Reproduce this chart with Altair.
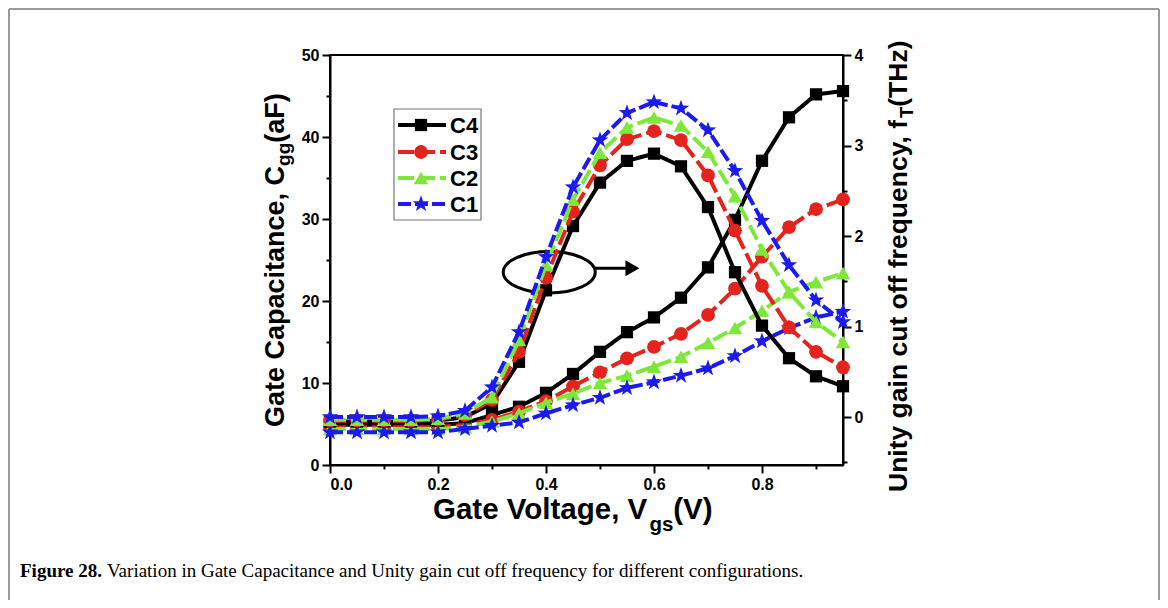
import altair as alt
import pandas as pd

# ---------------- data ----------------
V = [0.0, 0.05, 0.10, 0.15, 0.20, 0.25, 0.30, 0.35, 0.40, 0.45,
     0.50, 0.55, 0.60, 0.65, 0.70, 0.75, 0.80, 0.85, 0.90, 0.95]
series = ["C4", "C3", "C2", "C1"]

# Gate capacitance Cgg (aF) - left axis
cgg_C4 = [4.9, 4.9, 4.9, 4.9, 4.9, 5.1, 6.1, 7.1, 8.8, 11.1, 13.8, 16.2, 18.0, 20.4, 24.1, 29.9, 37.1, 42.4, 45.2, 45.6]
cgg_C3 = [4.6, 4.6, 4.6, 4.6, 4.6, 4.9, 5.5, 6.5, 7.8, 9.6, 11.3, 13.0, 14.4, 16.0, 18.3, 21.5, 25.4, 29.0, 31.2, 32.4]
cgg_C2 = [4.4, 4.4, 4.4, 4.4, 4.4, 4.6, 5.3, 6.3, 7.6, 8.7, 10.0, 10.9, 12.0, 13.2, 14.9, 16.7, 18.8, 21.1, 22.3, 23.4]
cgg_C1 = [4.0, 4.0, 4.0, 4.0, 4.0, 4.4, 4.8, 5.2, 6.3, 7.3, 8.2, 9.4, 10.1, 10.9, 11.8, 13.3, 15.1, 16.7, 18.0, 18.7]

# Unity gain cut-off frequency fT (THz) - right axis
ft_C4 = [-0.05, -0.05, -0.05, -0.05, -0.04, 0.00, 0.15, 0.61, 1.40, 2.11, 2.59, 2.83, 2.91, 2.77, 2.32, 1.60, 1.01, 0.65, 0.45, 0.34]
ft_C3 = [-0.04, -0.04, -0.04, -0.04, -0.03, 0.02, 0.19, 0.72, 1.54, 2.27, 2.78, 3.07, 3.16, 3.06, 2.67, 2.06, 1.45, 0.99, 0.72, 0.55]
ft_C2 = [-0.03, -0.03, -0.03, -0.03, -0.02, 0.04, 0.22, 0.85, 1.68, 2.40, 2.92, 3.20, 3.31, 3.22, 2.93, 2.44, 1.85, 1.38, 1.05, 0.83]
ft_C1 = [0.00, 0.00, 0.00, 0.00, 0.01, 0.07, 0.33, 0.94, 1.77, 2.54, 3.06, 3.36, 3.48, 3.41, 3.17, 2.72, 2.17, 1.68, 1.29, 1.05]

x_ticks = [0.0, 0.1, 0.2, 0.3, 0.4, 0.5, 0.6, 0.7, 0.8, 0.9]
left_ticks = [0, 5, 10, 15, 20, 25, 30, 35, 40, 45, 50]
right_ticks = [-0.5, 0, 0.5, 1, 1.5, 2, 2.5, 3, 3.5, 4]

# annotation (ellipse + arrow) in data units of the left axis
ell_x = [0.406]
ell_y = [23.5]
arrow_x1 = [0.491]
arrow_x2 = [0.55]
arrow_y = [24.0]
head_x = [0.56]

# ---------------- styles ----------------
STAR = ("M 0 -1 L 0.235 -0.324 L 0.951 -0.309 L 0.380 0.124 L 0.588 0.809 L 0 0.4 "
        "L -0.588 0.809 L -0.380 0.124 L -0.951 -0.309 L -0.235 -0.324 Z")
colors = ["#000000", "#e3231c", "#7ee83a", "#1b1bf0"]
dashes = [[1, 0], [16, 5], [16, 5], [13, 4]]
shapes = ["square", "circle", "triangle-up", STAR]
sizes = [150, 190, 210, 300]
LW = 4
FONT = "Liberation Sans"

cgg = {"C4": cgg_C4, "C3": cgg_C3, "C2": cgg_C2, "C1": cgg_C1}
ft = {"C4": ft_C4, "C3": ft_C3, "C2": ft_C2, "C1": ft_C1}

xscale = alt.Scale(domain=[0, 0.95], nice=False, zero=False)
lscale = alt.Scale(domain=[0, 50], nice=False, zero=False)
rscale = alt.Scale(domain=[-0.53, 4], nice=False, zero=False)


def axis_common():
    return dict(labelFontSize=16, labelFontWeight="bold", labelFont=FONT,
                labelColor="black", tickColor="black", tickWidth=2,
                domainColor="black", domainWidth=2, grid=False, labelPadding=3)


def x_axis():
    return alt.Axis(values=x_ticks, format=".1f", orient="bottom",
                    labelExpr="round(datum.value*10) % 2 == 0 ? datum.label : ''",
                    tickSize={"condition": {"test": "round(datum.value*10) % 2 == 0", "value": 8}, "value": 4},
                    **axis_common())


def l_axis():
    return alt.Axis(values=left_ticks, orient="left", format=".0f",
                    labelExpr="datum.value % 10 == 0 ? datum.label : ''",
                    tickSize={"condition": {"test": "datum.value % 10 == 0", "value": 8}, "value": 4},
                    **axis_common())


def r_axis():
    return alt.Axis(values=right_ticks, orient="right", format=".0f",
                    labelExpr="datum.value % 1 == 0 ? datum.label : ''",
                    tickSize={"condition": {"test": "datum.value % 1 == 0", "value": 8}, "value": 4},
                    **axis_common())


left_layers = []
right_layers = []
for s, c, d, sh, sz in zip(series, colors, dashes, shapes, sizes):
    dfs = pd.DataFrame({"V": V, "Cgg": cgg[s], "fT": ft[s]})
    b = alt.Chart(dfs)
    xe = alt.X("V:Q", scale=xscale, axis=x_axis(), title=None)
    yl = alt.Y("Cgg:Q", scale=lscale, axis=l_axis(), title=None)
    yr = alt.Y("fT:Q", scale=rscale, axis=r_axis(), title=None)
    left_layers.append(b.mark_line(strokeWidth=LW, color=c, strokeDash=d).encode(x=xe, y=yl))
    left_layers.append(b.mark_point(shape=sh, size=sz, filled=True, color=c, opacity=1).encode(x=xe, y=yl))
    right_layers.append(b.mark_line(strokeWidth=LW, color=c, strokeDash=d).encode(x=xe, y=yr))
    right_layers.append(b.mark_point(shape=sh, size=sz, filled=True, color=c, opacity=1).encode(x=xe, y=yr))

ELLIPSE = ("M -1 0 C -1 -0.25 -0.55 -0.45 0 -0.45 C 0.55 -0.45 1 -0.25 1 0 "
           "C 1 0.25 0.55 0.45 0 0.45 C -0.55 0.45 -1 0.25 -1 0 Z")
ann = pd.DataFrame({"ex": ell_x, "ey": ell_y, "x1": arrow_x1, "x2": arrow_x2,
                    "ay": arrow_y, "hx": head_x})
ell = alt.Chart(ann).mark_point(
    shape=ELLIPSE, size=8464, filled=False, strokeWidth=3, color="black", opacity=1
).encode(x=alt.X("ex:Q", scale=xscale, axis=x_axis(), title=None),
         y=alt.Y("ey:Q", scale=lscale, axis=l_axis(), title=None))
arrow = alt.Chart(ann).mark_rule(strokeWidth=3, color="black").encode(
    x=alt.X("x1:Q", scale=xscale, axis=x_axis(), title=None), x2="x2:Q",
    y=alt.Y("ay:Q", scale=lscale, axis=l_axis(), title=None))
head = alt.Chart(ann).mark_point(
    shape="triangle-right", filled=True, size=260, color="black", opacity=1
).encode(x=alt.X("hx:Q", scale=xscale, axis=x_axis(), title=None),
         y=alt.Y("ay:Q", scale=lscale, axis=l_axis(), title=None))
left_layers += [ell, arrow, head]

left_group = alt.layer(*left_layers)
right_group = alt.layer(*right_layers)

# ---------------- decorations (layout, pixel positions relative to plot origin) ----------------
one = alt.InlineData(values=[{"a": 0}])


def txt(text, x, y, size, weight="bold", angle=0, align="left", font=FONT, baseline="alphabetic"):
    kw = dict(text=text, align=align, baseline=baseline, font=font, fontSize=size,
              fontWeight=weight, color="black")
    if angle:
        kw["angle"] = angle
    return alt.Chart(one).mark_text(**kw).encode(x=alt.value(x), y=alt.value(y))


decor = []
decor.append(txt("Gate Capacitance, C", -46, 372, 27, angle=270))
decor.append(txt("gg", -40, 110.9, 19, angle=270))
decor.append(txt("(aF)", -46, 87.7, 27, angle=270))
decor.append(txt("Unity gain cut off frequency, f", 577, 437, 26.5, angle=270))
decor.append(txt("T", 583, 63, 18.5, angle=270))
decor.append(txt("(THz)", 577, 51.7, 26.5, angle=270))
decor.append(txt("Gate Voltage, V", 103, 464, 29.5))
decor.append(txt("gs", 319.4, 476, 20.5))
decor.append(txt("(V)", 343.3, 464, 29.5))

decor.append(alt.Chart(one).mark_rect(fillOpacity=0, stroke="#777777", strokeWidth=1.2).encode(
    x=alt.value(64), x2=alt.value(151), y=alt.value(54), y2=alt.value(165)))
leg_y = [70, 97, 123, 149]
for s, c, d, sh, sz, ly in zip(series, colors, dashes, shapes, sizes, leg_y):
    decor.append(alt.Chart(one).mark_rule(strokeWidth=LW, color=c, strokeDash=d).encode(
        x=alt.value(68), x2=alt.value(116), y=alt.value(ly)))
    decor.append(alt.Chart(one).mark_point(shape=sh, filled=True, size=sz, color=c, opacity=1).encode(
        x=alt.value(91), y=alt.value(ly)))
    decor.append(txt(s, 120, ly + 1, 22, baseline="middle"))

decor.append(txt("Figure 28.", -310, 522, 19, font="Liberation Serif"))
decor.append(txt("Variation in Gate Capacitance and Unity gain cut off frequency for different configurations.",
                 -223, 522, 19, weight="normal", font="Liberation Serif"))

frame_color = "#9a9a9a"
decor.append(alt.Chart(one).mark_rule(color=frame_color, strokeWidth=2).encode(
    x=alt.value(-321), y=alt.value(-46), y2=alt.value(545)))
decor.append(alt.Chart(one).mark_rule(color=frame_color, strokeWidth=2).encode(
    x=alt.value(-321), x2=alt.value(829), y=alt.value(-46)))
decor.append(alt.Chart(one).mark_rule(color=frame_color, strokeWidth=2).encode(
    x=alt.value(829), y=alt.value(-46), y2=alt.value(545)))

chart = alt.layer(left_group, right_group, *decor).resolve_scale(
    y="independent"
).properties(
    width=513, height=410,
    padding={"left": 322, "top": 47, "right": 317, "bottom": 135},
    autosize=alt.AutoSizeParams(type="none"),
    background="white",
).configure_view(stroke="black", strokeWidth=2)

chart.save("out.html", embed_options={"renderer": "svg", "actions": False})
